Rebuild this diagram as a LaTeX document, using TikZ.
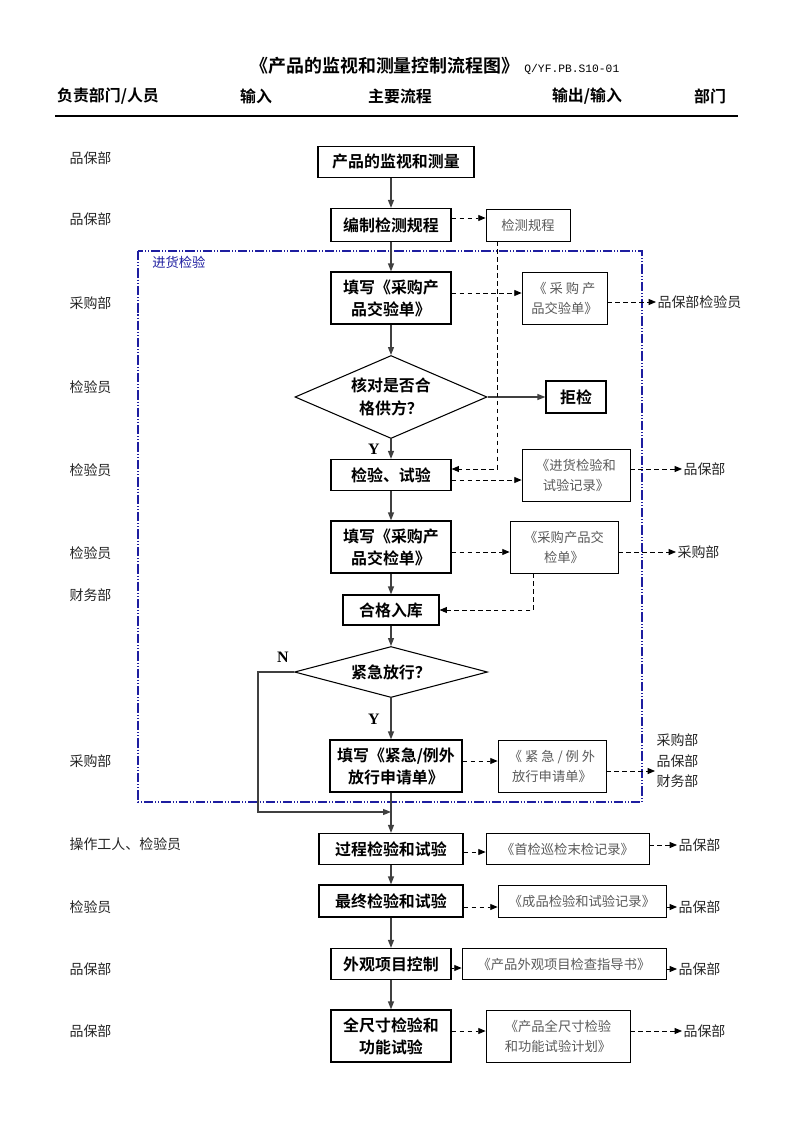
\documentclass[tikz,border=0pt]{standalone}
\usepackage{fontspec}
\usetikzlibrary{shapes.geometric,arrows.meta}
\setmainfont{Noto Sans CJK SC}[BoldFont={Noto Sans CJK SC Bold}]
\newfontfamily\latinbf{Liberation Serif}
\newfontfamily\codefont{Liberation Mono}
\newlength{\px}
\setlength{\px}{0.2646mm}
\definecolor{groupblue}{RGB}{30,30,160}
\tikzset{
  flowbox/.style={draw, line width=0.9pt, align=center, inner sep=0pt, minimum height=31\px, font=\bfseries\fontsize{12}{16.5}\selectfont},
  docbox/.style={draw, line width=0.6pt, align=center, inner sep=0pt, text=black!65, font=\fontsize{10}{15}\selectfont},
  check/.style={draw, diamond, line width=0.8pt, align=center, inner sep=0pt, font=\bfseries\fontsize{12}{17}\selectfont},
  headtxt/.style={font=\bfseries\fontsize{12}{14}\selectfont},
  dept/.style={anchor=west, inner sep=1pt, text=black!85, font=\fontsize{10.5}{15.5}\selectfont},
  yn/.style={font=\latinbf\bfseries\fontsize{12}{14}\selectfont},
  flowarrow/.style={-{Triangle[length=6pt,width=4.5pt]}, line width=0.9pt, draw=black!75},
  docarrow/.style={-{Triangle[length=5.5pt,width=4.5pt]}, line width=0.6pt, dash pattern=on 3.5pt off 2.5pt},
}

\begin{document}
\begin{tikzpicture}[x=0.2646mm,y=-0.2646mm]
\useasboundingbox (0,0) rectangle (793,1122);
\node[font=\bfseries\fontsize{13.5}{16}\selectfont] (title) at (385,66) {《产品的监视和测量控制流程图》};
\node[anchor=base west, inner sep=0pt, font=\codefont\fontsize{8.5}{10}\selectfont] (code) at (title.base east) {Q/YF.PB.S10-01};
\node[headtxt] (hdept) at (108,96) {负责部门/人员};
\node[headtxt] (hin) at (256,96) {输入};
\node[headtxt] (hmain) at (400,96) {主要流程};
\node[headtxt] (hout) at (587,96) {输出/输入};
\node[headtxt] (hto) at (710,96) {部门};
\draw[line width=1pt] (55,116) -- (738,116);

\draw[groupblue, line width=0.8pt, dash pattern=on 7pt off 1.5pt on 0.8pt off 1.5pt on 0.8pt off 1.5pt] (138,251) rectangle (642,802);
\node[anchor=west, inner sep=0pt, text=groupblue, font=\fontsize{10}{12}\selectfont] (incoming) at (152,262) {进货检验};

\node[dept] (l1) at (68,158) {品保部};
\node[dept] (l2) at (68,219) {品保部};
\node[dept] (l3) at (68,303) {采购部};
\node[dept] (l4) at (68,387) {检验员};
\node[dept] (l5) at (68,470) {检验员};
\node[dept] (l6) at (68,553) {检验员};
\node[dept] (l7) at (68,595) {财务部};
\node[dept] (l8) at (68,761) {采购部};
\node[dept] (l9) at (68,844) {操作工人、检验员};
\node[dept] (l10) at (68,907) {检验员};
\node[dept] (l11) at (68,969) {品保部};
\node[dept] (l12) at (68,1031) {品保部};

\node[flowbox, minimum width=156\px] (b1) at (396,162) {产品的监视和测量};
\node[flowbox, minimum width=120\px, minimum height=33\px] (b2) at (391,225) {编制检测规程};
\node[flowbox, minimum width=120\px, minimum height=52\px] (b3) at (391,298) {填写《采购产\\品交验单》};
\node[check, minimum width=192\px, minimum height=83\px, aspect=2.3] (q1) at (391,397) {核对是否合\\格供方？};
\node[flowbox, minimum width=60\px, minimum height=32\px] (reject) at (576,397) {拒检};
\node[flowbox, minimum width=120\px] (b4) at (391,475) {检验、试验};
\node[flowbox, minimum width=120\px, minimum height=52\px] (b5) at (391,547) {填写《采购产\\品交检单》};
\node[flowbox, minimum width=96\px, minimum height=30\px] (b6) at (391,610) {合格入库};
\node[check, minimum width=193\px, minimum height=51\px, aspect=3.8] (q2) at (391,672) {紧急放行？};
\node[flowbox, minimum width=132\px, minimum height=52\px] (b7) at (396,766) {填写《紧急/例外\\放行申请单》};
\node[flowbox, minimum width=144\px] (b8) at (391,849) {过程检验和试验};
\node[flowbox, minimum width=144\px, minimum height=32\px] (b9) at (391,901) {最终检验和试验};
\node[flowbox, minimum width=120\px] (b10) at (391,964) {外观项目控制};
\node[flowbox, minimum width=120\px, minimum height=52\px] (b11) at (391,1036) {全尺寸检验和\\功能试验};

\node[docbox, minimum width=84\px, minimum height=32\px] (d1) at (528,225) {检测规程};
\node[docbox, minimum width=85\px, minimum height=52\px] (d2) at (564.5,298) {《 采 购 产\\品交验单》};
\node[docbox, minimum width=108\px, minimum height=52\px] (d3) at (576,475) {《进货检验和\\试验记录》};
\node[docbox, minimum width=108\px, minimum height=52\px] (d4) at (564,547) {《采购产品交\\检单》};
\node[docbox, minimum width=108\px, minimum height=52\px] (d5) at (552,766) {《 紧 急 / 例 外\\放行申请单》};
\node[docbox, minimum width=163\px, minimum height=31\px] (d6) at (567.5,849) {《首检巡检末检记录》};
\node[docbox, minimum width=168\px, minimum height=32\px] (d7) at (582,901) {《成品检验和试验记录》};
\node[docbox, minimum width=204\px, minimum height=31\px] (d8) at (564,964) {《产品外观项目检查指导书》};
\node[docbox, minimum width=144\px, minimum height=52\px] (d9) at (558,1036) {《产品全尺寸检验\\和功能试验计划》};

\node[dept] (o2) at (656,302) {品保部检验员};
\node[dept] (o3) at (682,469) {品保部};
\node[dept] (o4) at (676,552) {采购部};
\node[dept, align=left] (o5) at (655,761) {采购部\\品保部\\财务部};
\node[dept] (o6) at (677,845) {品保部};
\node[dept] (o7) at (677,907) {品保部};
\node[dept] (o8) at (677,969) {品保部};
\node[dept] (o9) at (682,1031) {品保部};

\node[yn] (yes1) at (374,449) {Y};
\node[yn] (no2) at (283,657) {N};
\node[yn] (yes2) at (374,719) {Y};
\coordinate (nback) at (258,812);
\coordinate (join) at (391,812);

\draw[flowarrow] (b1.south -| b2) -- (b2);
\draw[flowarrow] (b2) -- (b3);
\draw[flowarrow] (b3) -- (q1);
\draw[flowarrow] (q1) -- (b4);
\draw[flowarrow] (q1.east) -- (reject);
\draw[flowarrow] (b4) -- (b5);
\draw[flowarrow] (b5) -- (b6);
\draw[flowarrow] (b6) -- (q2);
\draw[flowarrow] (q2.south) -- (q2.south |- b7.north);
\draw[flowarrow] (b7.south -| b8) -- (b8);
\draw[flowarrow] (q2.west) -| (nback) -- (join);
\draw[flowarrow] (b8) -- (b9);
\draw[flowarrow] (b9) -- (b10);
\draw[flowarrow] (b10) -- (b11);

\draw[docarrow] ([yshift=7\px]b2.east) -- ([yshift=7\px]d1.west);
\draw[docarrow] ([xshift=12\px]d1.south west) |- ([yshift=6\px]b4.east);
\draw[docarrow] ([yshift=5\px]b3.east) -- ([yshift=5\px]d2.west);
\draw[docarrow] ([yshift=-5\px]b4.east) -- ([yshift=-5\px]d3.west);
\draw[docarrow] ([yshift=-5\px]b5.east) -- ([yshift=-5\px]d4.west);
\draw[docarrow] ([xshift=24\px]d4.south west) |- (b6.east);
\draw[docarrow] ([yshift=5\px]b7.east) -- ([yshift=5\px]d5.west);
\draw[docarrow] ([yshift=-3\px]b8.east) -- ([yshift=-3\px]d6.west);
\draw[docarrow] ([yshift=-6\px]b9.east) -- ([yshift=-6\px]d7.west);
\draw[docarrow] ([yshift=-4\px]b10.east) -- ([yshift=-4\px]d8.west);
\draw[docarrow] ([yshift=5\px]b11.east) -- ([yshift=5\px]d9.west);
\draw[docarrow] (d2.east |- o2) -- (o2.west);
\draw[docarrow] (d3.east |- o3) -- (o3.west);
\draw[docarrow] (d4.east |- o4) -- (o4.west);
\draw[docarrow] ([yshift=-5\px]d5.east) -- ([yshift=-5\px]d5.east -| o5.west);
\draw[docarrow] (d6.east |- o6) -- (o6.west);
\draw[docarrow] (d7.east |- o7) -- (o7.west);
\draw[docarrow] (d8.east |- o8) -- (o8.west);
\draw[docarrow] (d9.east |- o9) -- (o9.west);
\end{tikzpicture}
\end{document}
